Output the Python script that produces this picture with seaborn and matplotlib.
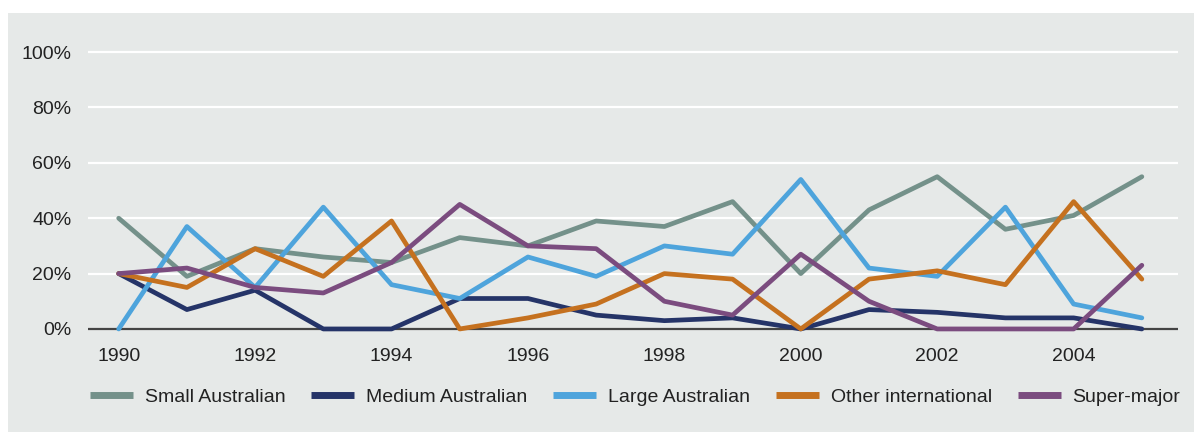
import numpy as np
import pandas as pd
import matplotlib
matplotlib.use("Agg")
import matplotlib.pyplot as plt
import seaborn as sns
from matplotlib.patches import Rectangle

years = list(range(1990, 2006))
small_australian = [40, 19, 29, 26, 24, 33, 30, 39, 37, 46, 20, 43, 55, 36, 41, 55]
medium_australian = [20, 7, 14, 0, 0, 11, 11, 5, 3, 4, 0, 7, 6, 4, 4, 0]
large_australian = [0, 37, 15, 44, 16, 11, 26, 19, 30, 27, 54, 22, 19, 44, 9, 4]
other_international = [20, 15, 29, 19, 39, 0, 4, 9, 20, 18, 0, 18, 21, 16, 46, 18]
super_major = [20, 22, 15, 13, 24, 45, 30, 29, 10, 5, 27, 10, 0, 0, 0, 23]

series_names = ["Small Australian", "Medium Australian", "Large Australian",
                "Other international", "Super-major"]
series_values = [small_australian, medium_australian, large_australian,
                 other_international, super_major]
colors = ["#74918a", "#253468", "#4ea4dc", "#c5711f", "#7b4c7f"]
y_ticks = [0, 20, 40, 60, 80, 100]
x_ticks = [1990, 1992, 1994, 1996, 1998, 2000, 2002, 2004]

df = pd.concat([pd.DataFrame({"Year": years, "Share": v, "Series": n})
                for n, v in zip(series_names, series_values)], ignore_index=True)

sns.set_theme(style="white")
plt.rcParams["font.family"] = ["Liberation Sans", "DejaVu Sans"]

BG = "#e6e9e8"
fig = plt.figure(figsize=(11.94, 4.32), dpi=100)
fig.patch.set_facecolor("white")
fig.patches.append(Rectangle((8 / 1194, 0), 1, (432 - 13) / 432, transform=fig.transFigure,
                             facecolor=BG, edgecolor="none", zorder=-10))

ax = fig.add_axes([88 / 1194, 0.2257, (1178 - 88) / 1194, 0.905 - 0.2257])
ax.set_zorder(5)
ax.set_facecolor(BG)
for y in y_ticks[1:]:
    ax.axhline(y, color="white", lw=1.6, zorder=1)
ax.axhline(0, color="#444444", lw=1.6, zorder=1)

sns.lineplot(data=df, x="Year", y="Share", hue="Series", palette=colors,
             hue_order=series_names, linewidth=3.4, ax=ax, legend=False, zorder=3)

ax.set_xlim(1989.55, 2005.53)
ax.set_ylim(-2, 104)
ax.set_xticks(x_ticks)
ax.set_xticklabels([str(x) for x in x_ticks])
ax.set_yticks(y_ticks)
ax.set_yticklabels([f"{v}%" for v in y_ticks])
ax.tick_params(axis="both", length=0, labelsize=14, colors="#222222")
ax.tick_params(axis="x", pad=10)
ax.tick_params(axis="y", pad=12)
ax.set_xlabel("")
ax.set_ylabel("")
for s in ax.spines.values():
    s.set_visible(False)

handles = [plt.Line2D([], [], color=c, lw=5, solid_capstyle="butt") for c in colors]
leg = fig.legend(handles, series_names, loc="center", bbox_to_anchor=(0.532, (432 - 397) / 432),
                 ncol=5, frameon=False, fontsize=14, handlelength=2.2, columnspacing=1.35,
                 handletextpad=0.6)
for t in leg.get_texts():
    t.set_color("#222222")

fig.savefig("out.png", dpi=100, facecolor="white")
